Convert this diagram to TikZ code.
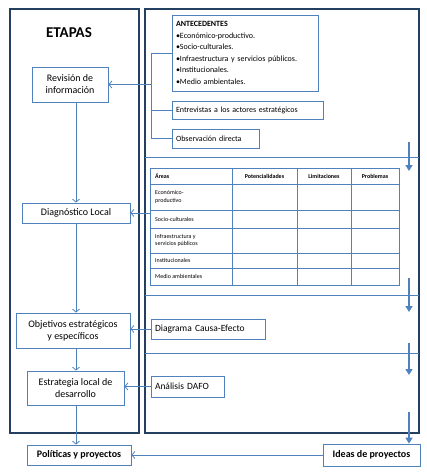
\documentclass[tikz,border=0pt]{standalone}
\usepackage{fontspec}
\setmainfont{Carlito}
\usetikzlibrary{arrows.meta, positioning}
\definecolor{lineblue}{RGB}{79,129,189}
\definecolor{framenavy}{RGB}{36,64,97}

\begin{document}
\begin{tikzpicture}[x=1pt, y=-1pt, every node/.style={font=\fontsize{10}{12}\selectfont}]
    \tikzset{stage/.style={rectangle, draw=lineblue, line width=0.8pt, fill=white,
                           align=center, inner sep=2pt},
             tool/.style={rectangle, draw=lineblue, line width=0.8pt, fill=white,
                          align=left, inner sep=4pt},
             frame/.style={draw=framenavy, line width=1.6pt},
             thin/.style={draw=lineblue, line width=0.8pt},
             arr/.style={thin, -{Straight Barb[length=3pt, width=7pt]}},
             bigarr/.style={draw=lineblue, line width=2pt, -{Triangle[length=6pt, width=7pt]}},
             cell/.style={font=\fontsize{6}{7.5}\selectfont, inner sep=0pt}}
    \useasboundingbox (0,0) rectangle (426,473);

    % the two panels
    \draw[frame] (10,9) rectangle (139,433);
    \draw[frame] (145,9) rectangle (419,433);
    \foreach \y in {157, 295, 353}
      \draw[thin] (145,\y) -- (419,\y);

    % stages
    \node[font=\fontsize{15}{18}\selectfont\bfseries] (etapas) at (69,33) {ETAPAS};
    \node[stage, minimum width=76pt, minimum height=35pt] (rev) at (70,84.5) {Revisión de\\información};
    \node[stage, minimum width=108pt, minimum height=20pt] (dia) at (76,213) {Diagnóstico Local};
    \node[stage, minimum width=114pt, minimum height=35pt] (obj) at (73,330.5) {Objetivos estratégicos\\y específicos};
    \node[stage, minimum width=97pt, minimum height=34pt] (est) at (75.5,388) {Estrategia local de\\desarrollo};
    \node[stage, minimum width=104pt, minimum height=20pt, font=\fontsize{10}{12}\selectfont\bfseries] (pol) at (79,455) {Políticas y proyectos};
    \node[stage, minimum width=97pt, minimum height=22pt, font=\fontsize{10}{12}\selectfont\bfseries] (ide) at (371.5,455) {Ideas de proyectos};

    % tools
    \node[tool, text width=138pt, minimum height=76pt, font=\fontsize{8}{11.5}\selectfont] (ant) at (245,53)
      {\textbf{ANTECEDENTES}\\•Económico-productivo.\\•Socio-culturales.\\•Infraestructura y servicios públicos.\\•Institucionales.\\•Medio ambientales.};
    \node[tool, text width=143pt, minimum height=18pt, font=\fontsize{8}{10}\selectfont] (ent) at (247.5,110) {Entrevistas a los actores estratégicos};
    \node[tool, text width=79pt, minimum height=19pt, font=\fontsize{8}{10}\selectfont] (obs) at (215.5,138.5) {Observación directa};
    \node[tool, text width=106pt, minimum height=20pt, font=\fontsize{9.5}{11}\selectfont] (cau) at (208,329) {Diagrama Causa-Efecto};
    \node[tool, text width=65pt, minimum height=21pt, font=\fontsize{9.5}{11}\selectfont] (daf) at (187.5,386.5) {Análisis DAFO};

    % table of areas
    \node[thin, minimum width=249pt, minimum height=117pt, inner sep=0pt] (tab) at (274.5,226.5) {};
    \foreach \x in {232, 297, 351}
      \draw[thin] (\x,168) -- (\x,285);
    \foreach \y in {184, 210, 228, 253, 268}
      \draw[thin] (150,\y) -- (399,\y);
    \node[cell, anchor=west, font=\fontsize{6}{7.5}\selectfont\bfseries] (h1) at (155,176) {Áreas};
    \node[cell, font=\fontsize{6}{7.5}\selectfont\bfseries] (h2) at (264.5,176) {Potencialidades};
    \node[cell, font=\fontsize{6}{7.5}\selectfont\bfseries] (h3) at (324,176) {Limitaciones};
    \node[cell, font=\fontsize{6}{7.5}\selectfont\bfseries] (h4) at (375,176) {Problemas};
    \node[cell, anchor=west, align=left] (r1) at (155,197) {Económico-\\productivo};
    \node[cell, anchor=west, align=left] (r2) at (155,219) {Socio-culturales};
    \node[cell, anchor=west, align=left] (r3) at (155,240.5) {Infraestructura y\\servicios públicos};
    \node[cell, anchor=west, align=left] (r4) at (155,260.5) {Institucionales};
    \node[cell, anchor=west, align=left] (r5) at (155,276.5) {Medio ambientales};

    % stage flow
    \coordinate (trunk) at (76,0);
    \foreach \a/\b in {rev/dia, dia/obj, obj/est, est/pol}
      \draw[arr] (\a.south -| trunk) -- (\b.north -| trunk);

    % tools to stages
    \coordinate (brk) at (151,84.5);
    \draw[thin] (ant.west) -- (ant.west -| brk) |- (obs.west);
    \draw[thin] (ent.west) -- (ent.west -| brk);
    \draw[arr] (brk) -- (rev.east);
    \draw[arr] (tab.west |- dia.east) -- (dia.east);
    \draw[arr] (cau.west) -- (cau.west -| obj.east);
    \draw[arr] (daf.west) -- (daf.west -| est.east);
    \draw[arr] (ide.west) -- (pol.east);

    % downward arrows on the right
    \coordinate (d1) at (409,142);
    \coordinate (d2) at (409,278);
    \coordinate (d3) at (409,343);
    \coordinate (d4) at (409,412);
    \draw[bigarr] (d1) -- ++(0,29);
    \draw[bigarr] (d2) -- ++(0,34);
    \draw[bigarr] (d3) -- ++(0,32);
    \draw[bigarr] (d4) -- (d4 |- ide.north);
\end{tikzpicture}
\end{document}
